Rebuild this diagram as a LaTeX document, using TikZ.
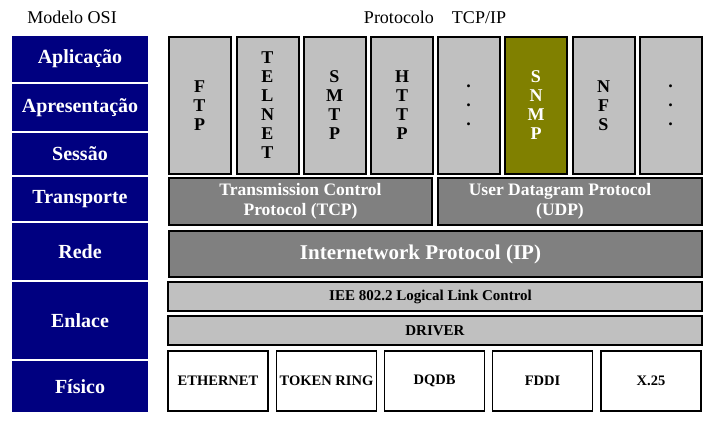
\documentclass[tikz,border=0pt]{standalone}
\usepackage{fontspec}
\setmainfont{Liberation Serif}
\definecolor{osiblue}{HTML}{000080}
\definecolor{lgray}{HTML}{C0C0C0}
\definecolor{dgray}{HTML}{808080}
\definecolor{olivebox}{HTML}{808000}
\tikzset{
  osibox/.style={fill=osiblue, text=white, minimum width=136pt, font=\fontsize{20}{22}\selectfont\bfseries},
  appbox/.style={draw=black, line width=2pt, fill=lgray, minimum width=62pt, minimum height=137pt, align=center, font=\fontsize{18}{19}\selectfont\bfseries},
  tbox/.style={draw=black, line width=2pt, fill=dgray, text=white, align=center, font=\fontsize{17.5}{20.5}\selectfont\bfseries},
  ttext/.style={text=white, align=center, font=\fontsize{17.5}{20.5}\selectfont\bfseries},
  linkbox/.style={draw=black, line width=2pt, fill=lgray, minimum width=534pt, minimum height=29pt, font=\fontsize{15}{17}\selectfont\bfseries},
  physbox/.style={draw=black, line width=1.6pt, fill=white, minimum width=100pt, minimum height=60pt, font=\fontsize{14.5}{17}\selectfont\bfseries}
}
\begin{document}
\begin{tikzpicture}[x=1pt,y=1pt]
\tikzstyle{every node}+=[inner sep=0pt]
\useasboundingbox (0,0) rectangle (713,-421);
% titles
\node (osititle) at (72,-17) {\fontsize{18}{20}\selectfont Modelo OSI};
\node (tcptitle) at (435,-17) {\fontsize{18}{20}\selectfont Protocolo\hspace{18pt}TCP/IP};
% OSI layers
\node [osibox, minimum height=46pt] (apl) at (80,-59) {Aplicação};
\node [osibox, minimum height=47pt] (apr) at (80,-107.5) {Apresentação};
\node [osibox, minimum height=42pt] (ses) at (80,-154) {Sessão};
\node [osibox, minimum height=44pt] (tra) at (80,-199) {Transporte};
\node [osibox, minimum height=57pt] (red) at (80,-251.5) {Rede};
\node [osibox, minimum height=77pt] (enl) at (80,-320.5) {Enlace};
\node [osibox, minimum height=51pt] (fis) at (80,-386.5) {Físico};
% applications
\node [appbox] (ftp) at (199.5,-105.5) {F\\T\\P};
\node [appbox] (telnet) at (267.5,-105.5) {T\\E\\L\\N\\E\\T};
\node [appbox] (smtp) at (334.5,-105.5) {S\\M\\T\\P};
\node [appbox] (http) at (402,-105.5) {H\\T\\T\\P};
\node [appbox] (dotsa) at (468.5,-105.5) {.\\.\\.};
\node [appbox, fill=olivebox, text=white] (snmp) at (536,-105.5) {S\\N\\M\\P};
\node [appbox] (nfs) at (603.5,-105.5) {N\\F\\S};
\node [appbox] (dotsb) at (670.5,-105.5) {.\\.\\.};
% transport and network
\node [tbox, minimum width=263pt, minimum height=47pt] (tcp) at (300.5,-201.5) {Transmission Control\\Protocol (TCP)};
\node [tbox, minimum width=264pt, minimum height=47pt] (udp) at (570,-201.5) {};
\node [ttext, xshift=-10pt] (udptext) at (udp) {User Datagram Protocol\\(UDP)};
\node [tbox, minimum width=533pt, minimum height=46pt] (ip) at (435.5,-254) {};
\node [ttext, xshift=-15pt, font=\fontsize{21}{23}\selectfont\bfseries] (iptext) at (ip) {Internetwork Protocol (IP)};
% link
\node [linkbox] (llc) at (435,-296.5) {};
\node [xshift=-4.5pt, font=\fontsize{15}{17}\selectfont\bfseries] (llctext) at (llc) {IEE 802.2 Logical Link Control};
\node [linkbox] (driver) at (435,-330.5) {DRIVER};
% physical
\node [physbox] (eth) at (218,-381) {ETHERNET};
\node [physbox] (token) at (326.5,-381) {TOKEN RING};
\node [physbox] (dqdb) at (434.5,-381) {DQDB};
\node [physbox] (fddi) at (542.5,-381) {FDDI};
\node [physbox] (x25) at (651,-381) {X.25};
\end{tikzpicture}
\end{document}
